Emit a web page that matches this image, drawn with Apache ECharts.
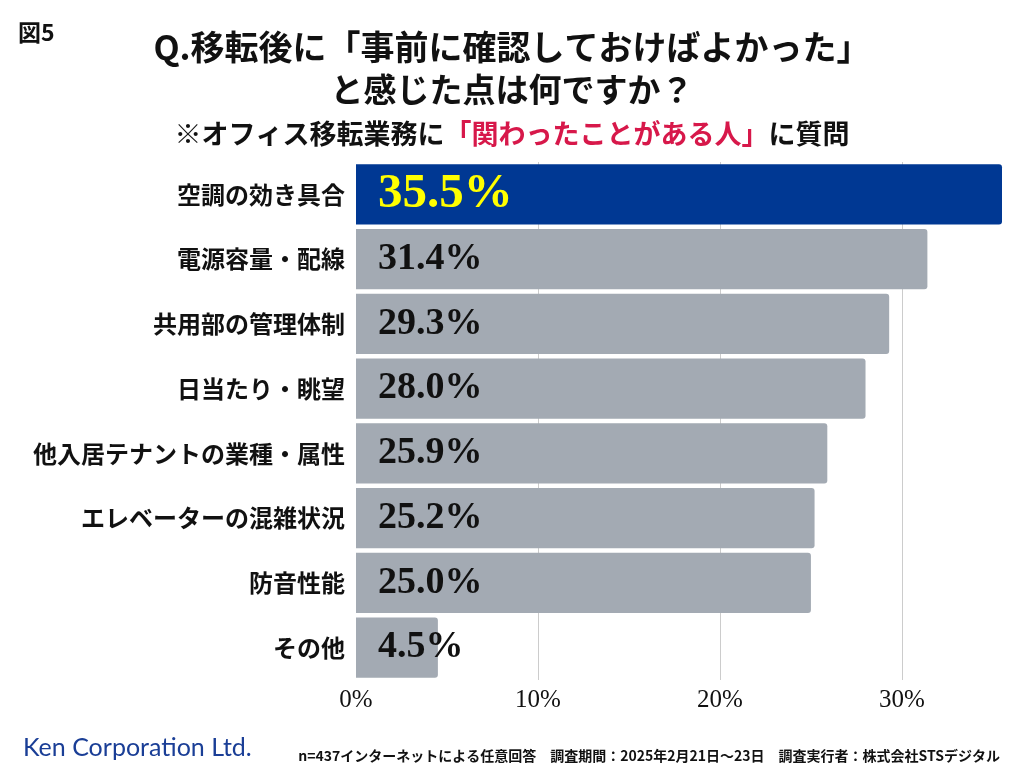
<!DOCTYPE html>
<html><head><meta charset="utf-8">
<script src="https://cdn.jsdelivr.net/npm/echarts@6/dist/echarts.min.js"></script>
<style>html,body{margin:0;padding:0;background:#fff}#c{width:1024px;height:768px}</style>
</head><body><div id="c"></div>
<script>
const categories = ['空調の効き具合','電源容量・配線','共用部の管理体制','日当たり・眺望','他入居テナントの業種・属性','エレベーターの混雑状況','防音性能','その他'];
const values = [35.5, 31.4, 29.3, 28.0, 25.9, 25.2, 25.0, 4.5];
const highlightIndex = 0;
const xTicks = [0, 10, 20, 30];

const JP = '"Noto Sans CJK JP", "Noto Sans", sans-serif';
const SERIF = '"Liberation Serif", "DejaVu Serif", serif';

const chart = echarts.init(document.getElementById('c'), null, {renderer:'canvas'});
const seriesData = values.map((v, i) => i === highlightIndex ? {
  value: v,
  itemStyle: {color: '#003893'},
  label: {color: '#ffff00', fontSize: 49}
} : v);

chart.setOption({
  animation: false,
  backgroundColor: '#fff',
  title: [
    {text: '図5', left: 13, top: 16, textStyle: {fontFamily: JP, fontWeight: 'bold', fontSize: 23, color: '#111'}},
    {text: 'Q.移転後に「事前に確認しておけばよかった」', left: 'center', top: 25, textStyle: {fontFamily: JP, fontWeight: 'bold', fontSize: 34, color: '#111'}},
    {text: 'と感じた点は何ですか？', left: 'center', top: 68, textStyle: {fontFamily: JP, fontWeight: 'bold', fontSize: 33, color: '#111'}},
    {text: '※オフィス移転業務に{r|「関わったことがある人」}に質問', left: 'center', top: 115,
     textStyle: {fontFamily: JP, fontWeight: 'bold', fontSize: 27, color: '#111',
       rich: {r: {fontFamily: JP, fontWeight: 'bold', fontSize: 27, color: '#d7184a'}}}},
    {text: 'Ken Corporation Ltd.', left: 18, top: 730, textStyle: {fontFamily: 'Lato, "Open Sans", sans-serif', fontWeight: 'normal', fontSize: 25, color: '#1a3e96'}},
    {text: 'n=437インターネットによる任意回答　調査期間：2025年2月21日～23日　調査実行者：株式会社STSデジタル', right: 19, top: 744,
     textStyle: {fontFamily: JP, fontWeight: 'bold', fontSize: 14, color: '#111'}}
  ],
  grid: {left: 356, right: 22, top: 162, bottom: 88, containLabel: false},
  xAxis: {
    type: 'value', min: 0, max: 35.5, interval: 10,
    axisLine: {show: false}, axisTick: {show: false},
    splitLine: {show: true, showMinLine: false, showMaxLine: false, lineStyle: {color: '#cccccc', width: 1}},
    axisLabel: {formatter: '{value}%', fontFamily: '"Liberation Serif", serif', fontSize: 25, color: '#111', margin: 8,
      customValues: xTicks}
  },
  yAxis: {
    type: 'category', data: categories, inverse: true,
    axisLine: {show: false}, axisTick: {show: false},
    axisLabel: {fontFamily: JP, fontWeight: 'bold', fontSize: 24, color: '#111', margin: 11}
  },
  series: [{
    type: 'bar', data: seriesData, barCategoryGap: '7%',
    itemStyle: {color: '#a3aab3', borderRadius: [0, 3, 3, 0]},
    label: {show: true, position: 'insideLeft', distance: 22, formatter: p => p.value.toFixed(1) + '%',
      fontFamily: SERIF, fontWeight: 'bold', fontSize: 38, color: '#111'}
  }]
});
</script></body></html>
